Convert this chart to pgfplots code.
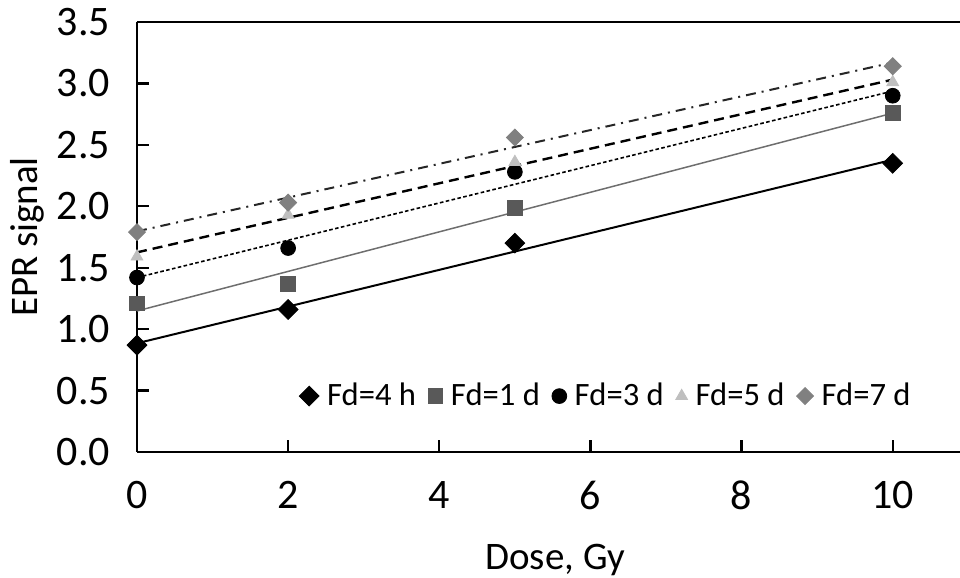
\documentclass[border=0pt]{standalone}
\usepackage{fontspec}
\setmainfont{Carlito}
\usepackage{pgfplots}
\pgfplotsset{compat=1.18}
\definecolor{gA}{HTML}{595959}
\definecolor{gB}{HTML}{BFBFBF}
\definecolor{gC}{HTML}{808080}
\definecolor{gL}{HTML}{6E6E6E}
\begin{document}
\begin{tikzpicture}
\useasboundingbox (0,0) rectangle (480pt,289pt);
\begin{axis}[
  at={(68.5pt,63pt)}, anchor=south west,
  width=411.5pt, height=215pt, scale only axis,
  xmin=0, xmax=10.89, ymin=0, ymax=3.5,
  clip=false,
  axis x line*=box, axis y line*=left,
  axis line style={-, line width=1.4pt},
  xtick={0,2,4,6,8,10}, ytick={0,0.5,...,3.5},
  xtick pos=bottom, ytick pos=left,
  tick align=inside, major tick length=6pt,
  tick style={line width=1.2pt, black},
  /pgf/number format/assume math mode=true,
  yticklabel style={/pgf/number format/fixed, /pgf/number format/fixed zerofill, /pgf/number format/precision=1, xshift=-10pt},
  ticklabel style={font=\fontsize{21}{25}\selectfont},
  xticklabel style={yshift=-11pt},
  xlabel={Dose, Gy}, ylabel={EPR signal},
  label style={font=\fontsize{19.5}{23}\selectfont},
  xlabel style={at={(axis description cs:0.508,-0.25)}, anchor=center},
  ylabel style={at={(axis description cs:-0.1337,0.5)}, anchor=center},
  legend columns=-1,
  legend style={at={(0.571,0.13)}, anchor=center, draw=none, fill=none,
    font=\fontsize{16.3}{19}\selectfont,
    /tikz/every odd column/.append style={column sep=2pt},
    /tikz/every even column/.append style={column sep=4pt}},
]
% markers
\addplot[only marks, mark=square*, mark options={rotate=45, fill=black, draw=black}, mark size=3.5pt]
  coordinates {(0,0.87) (2,1.16) (5,1.70) (10,2.35)};
\addlegendentry{Fd=4 h}
\addplot[only marks, mark=square*, mark options={fill=gA, draw=gA}, mark size=3.7pt]
  coordinates {(0,1.21) (2,1.37) (5,1.99) (10,2.76)};
\addlegendentry{Fd=1 d}
\addplot[only marks, mark=*, mark options={fill=black, draw=black}, mark size=3.7pt]
  coordinates {(0,1.42) (2,1.66) (5,2.28) (10,2.90)};
\addlegendentry{Fd=3 d}
\addplot[only marks, mark=triangle*, mark options={fill=gB, draw=gB}, mark size=3.4pt]
  coordinates {(0,1.59) (2,1.93) (5,2.36) (10,3.01)};
\addlegendentry{Fd=5 d}
\addplot[only marks, mark=square*, mark options={rotate=45, fill=gC, draw=gC}, mark size=3.0pt]
  coordinates {(0,1.79) (2,2.03) (5,2.56) (10,3.14)};
\addlegendentry{Fd=7 d}
% trend lines
\addplot[forget plot, black, line width=1pt] coordinates {(0,0.885) (10,2.379)};
\addplot[forget plot, gL, line width=0.75pt] coordinates {(0,1.148) (10,2.758)};
\addplot[forget plot, black, line width=0.8pt, dash pattern=on 1.8pt off 1.2pt] coordinates {(0,1.420) (10,2.938)};
\addplot[forget plot, black, line width=1.2pt, dash pattern=on 5pt off 3pt] coordinates {(0,1.625) (10,3.031)};
\addplot[forget plot, black!85, line width=1pt, dash pattern=on 5pt off 3pt on 1pt off 3pt] coordinates {(0,1.796) (10,3.170)};
\end{axis}
\end{tikzpicture}
\end{document}
